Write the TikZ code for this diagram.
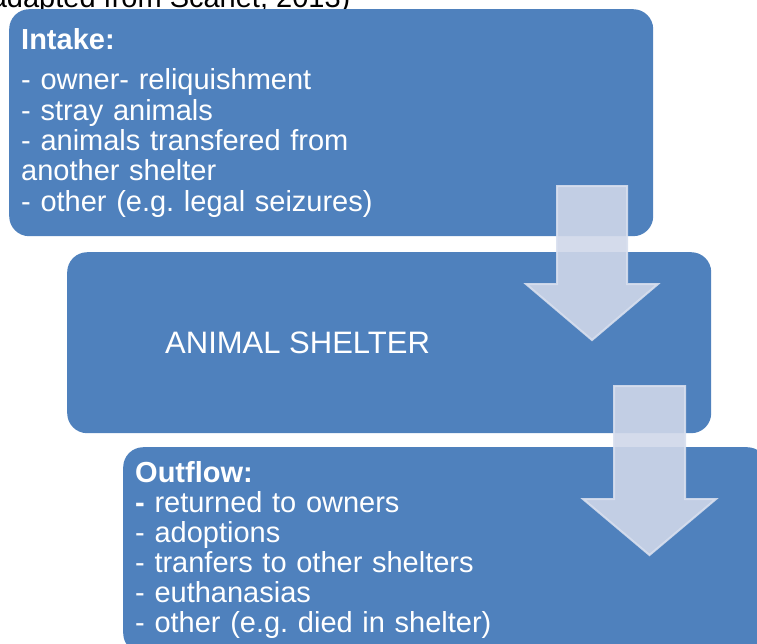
\documentclass[tikz,border=0pt]{standalone}
\usepackage{fontspec}
\setmainfont{Liberation Sans}
\usepackage{xcolor}
\usetikzlibrary{positioning}

\definecolor{boxblue}{RGB}{79,129,189}
\definecolor{arrowfill}{RGB}{207,215,233}
\definecolor{arrowline}{RGB}{216,223,238}

\begin{document}
\frenchspacing
\begin{tikzpicture}[
    x=1pt, y=-1pt,
    stage/.style={rectangle, rounded corners=20pt, fill=boxblue, text=white, anchor=north west, text width=620pt, inner xsep=12pt, inner ysep=0pt, align=left, font=\fontsize{29}{30.4}\selectfont},
    shelterlabel/.style={inner sep=0pt, text=white, font=\fontsize{31}{36}\selectfont},
    source/.style={inner sep=0pt, anchor=base west, text=black, font=\fontsize{29}{34}\selectfont},
    bigarrow/.style={fill=arrowfill, fill opacity=0.9, draw=arrowline, draw opacity=0.9, line width=2pt, line join=miter}
]
\useasboundingbox (0,0) rectangle (757,643);
\clip (0,0) rectangle (757,643);

\node[source] (src) at (-19,7) {(adapted from Scarlet, 2013)};

\node[stage, minimum height=227pt] (intake) at (9,9) {\textbf{Intake:}\\[10pt]
- owner- reliquishment\\
- stray animals\\
- animals transfered from\\
another shelter\\
- other (e.g. legal seizures)};
\node[stage, minimum height=181pt] (shelter) at (67,252) {};
\node[shelterlabel, right=98pt of shelter.west] (sheltertext) {ANIMAL SHELTER};
\node[stage, minimum height=206pt, font=\fontsize{29}{30}\selectfont] (outflow) at (123,447) {\textbf{Outflow:}\\
\textbf{-} returned to owners\\
- adoptions\\
- tranfers to other shelters\\
- euthanasias\\
- other (e.g. died in shelter)};

% Arrows
\draw[bigarrow] (557,186) -- (627,186) -- (627,284) -- (658,284) -- (592,340) -- (526,284) -- (557,284) -- cycle;
\draw[bigarrow] (614,386) -- (685,386) -- (685,499) -- (716,499) -- (649.5,555) -- (583,499) -- (614,499) -- cycle;

\end{tikzpicture}
\end{document}
